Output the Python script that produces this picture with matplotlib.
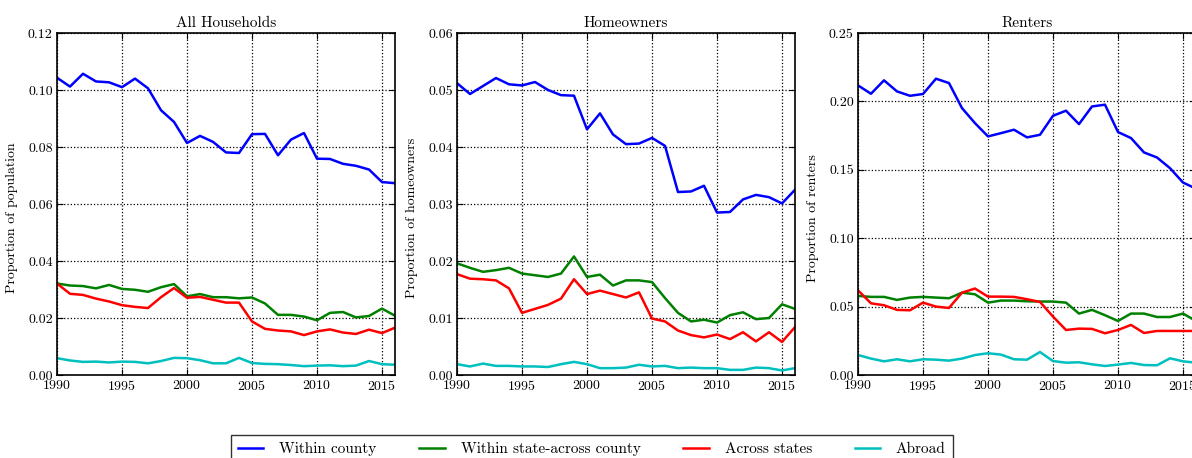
import numpy as np
import matplotlib
matplotlib.use("Agg")
import matplotlib.pyplot as plt
from matplotlib.ticker import FormatStrFormatter, MultipleLocator

plt.rcParams['font.family'] = ['cmr10', 'DejaVu Serif']
plt.rcParams['axes.formatter.use_mathtext'] = True

years = np.arange(1990, 2017)
series_names = ["Within county", "Within state-across county", "Across states", "Abroad"]
series_colors = ["#0000ff", "#008000", "#ff0000", "#00bfbf"]

# All households
all_within_county = [0.1043, 0.1012, 0.1057, 0.1030, 0.1027, 0.1010, 0.1040, 0.1006, 0.0929, 0.0888,
                     0.0814, 0.0839, 0.0818, 0.0781, 0.0779, 0.0845, 0.0846, 0.0771, 0.0826, 0.0849,
                     0.0759, 0.0758, 0.0741, 0.0734, 0.0721, 0.0677, 0.0673]
all_within_state = [0.0321, 0.0314, 0.0312, 0.0304, 0.0316, 0.0302, 0.0299, 0.0292, 0.0308, 0.0319,
                    0.0276, 0.0284, 0.0273, 0.0273, 0.0269, 0.0272, 0.0251, 0.0211, 0.0211, 0.0205,
                    0.0192, 0.0218, 0.0221, 0.0202, 0.0207, 0.0233, 0.0208]
all_across_states = [0.0321, 0.0285, 0.0281, 0.0268, 0.0258, 0.0245, 0.0239, 0.0235, 0.0273, 0.0305,
                     0.0271, 0.0274, 0.0264, 0.0254, 0.0254, 0.0188, 0.0162, 0.0156, 0.0153, 0.0140,
                     0.0153, 0.0160, 0.0149, 0.0144, 0.0159, 0.0147, 0.0166]
all_abroad = [0.0059, 0.0051, 0.0046, 0.0047, 0.0044, 0.0047, 0.0046, 0.0041, 0.0049, 0.0060,
              0.0059, 0.0052, 0.0041, 0.0041, 0.0060, 0.0042, 0.0039, 0.0038, 0.0035, 0.0031,
              0.0033, 0.0034, 0.0031, 0.0033, 0.0049, 0.0038, 0.0036]

# Homeowners
own_within_county = [0.0512, 0.0493, 0.0507, 0.0521, 0.0510, 0.0508, 0.0514, 0.0500, 0.0491, 0.0490,
                     0.0431, 0.0459, 0.0422, 0.0405, 0.0406, 0.0416, 0.0402, 0.0321, 0.0322, 0.0332,
                     0.0285, 0.0286, 0.0308, 0.0316, 0.0312, 0.0301, 0.0325]
own_within_state = [0.0196, 0.0188, 0.0181, 0.0184, 0.0188, 0.0178, 0.0175, 0.0172, 0.0178, 0.0208,
                    0.0172, 0.0176, 0.0157, 0.0166, 0.0166, 0.0163, 0.0135, 0.0109, 0.0094, 0.0097,
                    0.0092, 0.0105, 0.0110, 0.0098, 0.0100, 0.0124, 0.0116]
own_across_states = [0.0177, 0.0169, 0.0168, 0.0166, 0.0152, 0.0109, 0.0116, 0.0123, 0.0134, 0.0168,
                     0.0142, 0.0148, 0.0142, 0.0136, 0.0145, 0.0099, 0.0094, 0.0078, 0.0070, 0.0066,
                     0.0071, 0.0063, 0.0075, 0.0059, 0.0075, 0.0058, 0.0084]
own_abroad = [0.0019, 0.0015, 0.0020, 0.0016, 0.0016, 0.0015, 0.0015, 0.0014, 0.0019, 0.0023,
              0.0019, 0.0012, 0.0012, 0.0013, 0.0018, 0.0015, 0.0016, 0.0012, 0.0013, 0.0012,
              0.0012, 0.0009, 0.0009, 0.0013, 0.0012, 0.0008, 0.0012]

# Renters
rent_within_county = [0.2117, 0.2056, 0.2154, 0.2073, 0.2041, 0.2054, 0.2166, 0.2134, 0.1951, 0.1841,
                      0.1744, 0.1768, 0.1793, 0.1737, 0.1756, 0.1895, 0.1932, 0.1834, 0.1963, 0.1976,
                      0.1776, 0.1732, 0.1627, 0.1590, 0.1512, 0.1407, 0.1362]
rent_within_state = [0.0578, 0.0571, 0.0571, 0.0549, 0.0566, 0.0571, 0.0566, 0.0561, 0.0602, 0.0590,
                     0.0529, 0.0544, 0.0544, 0.0539, 0.0537, 0.0537, 0.0529, 0.0449, 0.0476, 0.0437,
                     0.0395, 0.0449, 0.0449, 0.0424, 0.0424, 0.0449, 0.0395]
rent_across_states = [0.0619, 0.0524, 0.0510, 0.0476, 0.0473, 0.0529, 0.0500, 0.0490, 0.0602, 0.0632,
                      0.0573, 0.0573, 0.0571, 0.0554, 0.0534, 0.0427, 0.0329, 0.0339, 0.0337, 0.0305,
                      0.0329, 0.0366, 0.0307, 0.0322, 0.0322, 0.0322, 0.0322]
rent_abroad = [0.0146, 0.0120, 0.0100, 0.0115, 0.0100, 0.0115, 0.0112, 0.0105, 0.0120, 0.0146,
               0.0159, 0.0149, 0.0115, 0.0112, 0.0168, 0.0102, 0.0090, 0.0093, 0.0078, 0.0066,
               0.0076, 0.0088, 0.0073, 0.0071, 0.0122, 0.0100, 0.0090]

panels = [
    ("All Households", "Proportion of population", 0.12, 0.02,
     [all_within_county, all_within_state, all_across_states, all_abroad]),
    ("Homeowners", "Proportion of homeowners", 0.06, 0.01,
     [own_within_county, own_within_state, own_across_states, own_abroad]),
    ("Renters", "Proportion of renters", 0.25, 0.05,
     [rent_within_county, rent_within_state, rent_across_states, rent_abroad]),
]

fig = plt.figure(figsize=(11.92, 4.58), dpi=100)
lefts = [57 / 1192, 457 / 1192, 858 / 1192]
w = 338 / 1192
bottom = 83 / 458
h = 342 / 458

lines = []
for left, (title, ylab, ymax, ystep, data) in zip(lefts, panels):
    ax = fig.add_axes([left, bottom, w, h])
    for vals, name, col in zip(data, series_names, series_colors):
        ln, = ax.plot(years, vals, color=col, lw=1.8, label=name)
        if len(lines) < 4:
            lines.append(ln)
    ax.set_xlim(1990, 2016)
    ax.set_ylim(0, ymax)
    ax.xaxis.set_major_locator(MultipleLocator(5))
    ax.yaxis.set_major_locator(MultipleLocator(ystep))
    ax.yaxis.set_major_formatter(FormatStrFormatter('%.2f'))
    ax.grid(True, color='black', linestyle=':', linewidth=0.9)
    ax.tick_params(direction='in', top=True, right=True, labelsize=10, length=4)
    ax.tick_params(axis='x', pad=3)
    ax.tick_params(axis='y', pad=3)
    for sp in ax.spines.values():
        sp.set_linewidth(1.2)
    ax.set_title(title, fontsize=11, pad=4)
    ax.set_ylabel(ylab, fontsize=10, labelpad=5)
    ax.yaxis.set_label_coords(-0.115, 0.46)

fig.legend(lines, series_names, loc='upper center', bbox_to_anchor=(0.4966, 1 - 435 / 458),
           ncol=4, fontsize=11, frameon=True, fancybox=False, edgecolor='black',
           handlelength=1.65, handletextpad=1.05, columnspacing=2.8, borderaxespad=0.0,
           borderpad=0.45)

fig.savefig("out.png", dpi=100)
